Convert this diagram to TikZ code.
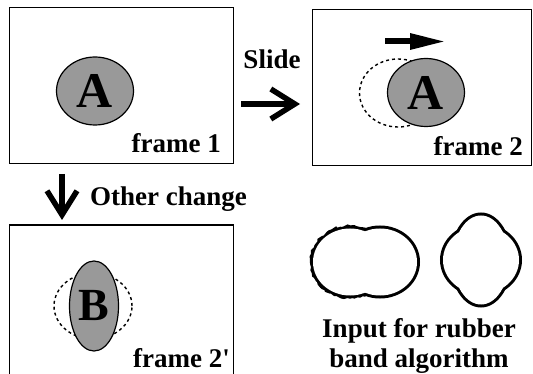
\documentclass[tikz,border=0pt]{standalone}
\usepackage{fontspec}
\setmainfont{Liberation Serif}
\usetikzlibrary{shapes.geometric, arrows.meta, decorations.pathmorphing}

\tikzset{
  frame/.style={draw, line width=1.5pt, rectangle, inner sep=0pt},
  blob/.style={draw, ellipse, line width=1.2pt, fill=black!40, inner sep=0pt,
    font=\fontsize{50}{50}\selectfont\bfseries},
  ghost/.style={draw, ellipse, dashed, dash pattern=on 3pt off 3pt, line width=1.4pt, inner sep=0pt},
  lbl/.style={font=\fontsize{27}{30}\selectfont\bfseries, inner sep=0pt},
  bigarrow/.style={line width=5.5pt, -{Straight Barb[length=24pt, width=30pt, sharp]}},
  band/.style={line width=6pt},
}

\begin{document}
\begin{tikzpicture}[x=1pt, y=-1pt]
\useasboundingbox (0,0) rectangle (533,374);

% riquadri
\node[frame, minimum width=224pt, minimum height=156pt] (f1) at (121.5,85.5) {};
\node[frame, minimum width=219pt, minimum height=156pt] (f2) at (422,87.5) {};
\node[frame, minimum width=224pt, minimum height=160pt] (f3) at (121.5,305) {};

% frame 1
\node[blob, minimum width=77pt, minimum height=68pt] (A1) at (95,91) {A};
\node[lbl, anchor=base east] (t1) at (221,153) {frame 1};

% frame 2
\node[ghost, minimum width=77pt, minimum height=68pt] (A0) at (398,93) {};
\node[blob, minimum width=77pt, minimum height=68pt] (A2) at (426,92.5) {A};
\coordinate (m1) at (385,41.5);
\coordinate (m2) at (446,41.5);
\draw[line width=6pt, -{Triangle[length=36pt, width=15pt]}] (m1) -- (m2); % movimento
\node[lbl, anchor=base east] (t2) at (523,156) {frame 2};

% frame 2'
\node[ghost, minimum width=78pt, minimum height=66pt] (B0) at (93,306) {};
\node[blob, font=\fontsize{46}{46}\selectfont\bfseries, minimum width=49pt, minimum height=90pt] (B) at (94,306) {B};
\node[lbl, anchor=base east] (t3) at (230,367) {frame 2\textquotesingle};

% frecce tra i riquadri
\coordinate (s1) at (241,104);
\coordinate (s2) at (300,104);
\draw[bigarrow] (s1) -- (s2);
\node[lbl, anchor=base] (slide) at (272,69) {Slide};
\coordinate (d1) at (62,174);
\coordinate (d2) at (62,220);
\draw[bigarrow] (d1) -- (d2);
\node[lbl, anchor=base west] (other) at (90,206) {Other change};

% ingresso rubber band
\draw[band, decorate, decoration={random steps, segment length=2.5pt, amplitude=0.9pt}]
  (350,262) ellipse [x radius=37pt, y radius=33.5pt];
\draw[band] (380,262) ellipse [x radius=37pt, y radius=33.5pt];
\fill[white] (350,262) ellipse [x radius=37pt, y radius=33.5pt];
\fill[white] (380,262) ellipse [x radius=37pt, y radius=33.5pt];

\draw[band] (481,260) ellipse [x radius=38pt, y radius=34pt];
\draw[band] (481,260) ellipse [x radius=28pt, y radius=44.5pt];
\fill[white] (481,260) ellipse [x radius=38pt, y radius=34pt];
\fill[white] (481,260) ellipse [x radius=28pt, y radius=44.5pt];

\node[lbl, anchor=base, align=center] (inp) at (419,367) {Input for rubber\\band algorithm};

\end{tikzpicture}
\end{document}
